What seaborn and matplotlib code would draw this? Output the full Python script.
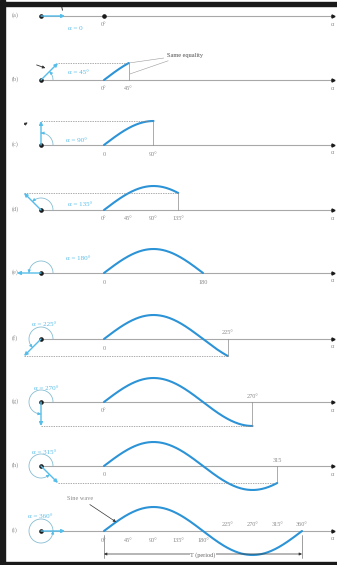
import numpy as np
import seaborn as sns
import matplotlib.pyplot as plt
from matplotlib.patches import Rectangle

sns.set_theme(style='white')
plt.rcParams['font.family'] = ['Liberation Serif', 'DejaVu Serif']

# data
panel_tags = ['(a)', '(b)', '(c)', '(d)', '(e)', '(f)', '(g)', '(h)', '(i)']
angles = [0, 45, 90, 135, 180, 225, 270, 315, 360]
angle_texts = ['α = 0', 'α = 45°', 'α = 90°', 'α = 135°', 'α = 180°',
               'α = 225°', 'α = 270°', 'α = 315°', 'α = 360°']
below_pos = [[0], [0, 45], [0, 90], [0, 45, 90, 135], [0, 180], [0], [0], [0],
             [0, 45, 90, 135, 180]]
below_txt = [['0°'], ['0°', '45°'], ['0', '90°'], ['0°', '45°', '90°', '135°'],
             ['0', '180'], ['0'], ['0°'], ['0'], ['0°', '45°', '90°', '135°', '180°']]
above_pos = [[], [], [], [], [], [225], [270], [315], [225, 270, 315, 360]]
above_txt = [[], [], [], [], [], ['225°'], ['270°'], ['315'],
             ['225°', '270°', '315°', '360°']]

# layout (pixels)
W, H = 337, 565
X0, SX, AMP = 104, 0.55, 24
rows = [16, 80, 145, 210, 273, 339, 402, 466, 531]
label_xy = [(75, 28), (78, 73), (76, 141), (80, 205), (78, 258),
            (44, 325), (46, 388), (44, 452), (40, 517)]
CX = 41
BLUE = '#2b93d6'
CYAN = '#55bde9'
GREY = '#9a9a9a'
TXT = '#8a8a8a'


def dx(xp):
    return (xp - X0) / SX


def dy(yp, row):
    return (row - yp) / AMP


fig = plt.figure(figsize=(W / 100, H / 100), dpi=100)

for i, row in enumerate(rows):
    ax = fig.add_axes([0, 1 - (row + 32) / H, 1, 64 / H])
    ax.set_xlim(dx(0), dx(W))
    ax.set_ylim(-32 / AMP, 32 / AMP)
    ax.axis('off')
    th = angles[i]
    rad = np.radians(th)
    cx = dx(CX)
    R = AMP / SX

    # horizontal axis with end arrow and centre dot
    ax.plot([cx, dx(333)], [0, 0], color='#a8a8a8', lw=0.8, clip_on=False)
    ax.plot(dx(333), 0, marker='>', ms=2.2, color='k', clip_on=False)
    ax.plot(cx, 0, marker='o', ms=2.3, color='k', clip_on=False)
    ax.text(dx(332), dy(row + 8, row), 'α', fontsize=4.5, color=TXT,
            ha='center', va='center')
    ax.text(dx(15), 0.05, panel_tags[i], fontsize=4.5, color=TXT,
            ha='center', va='center')

    # generated sine wave
    if th > 0:
        d = np.linspace(0, th, 200)
        sns.lineplot(x=d, y=np.sin(np.radians(d)), ax=ax, color=BLUE, lw=1.5,
                     sort=False, estimator=None)
    else:
        ax.plot(0, 0, marker='o', ms=2.3, color='k')

    # rotating vector
    tip = (cx + R * np.cos(rad), np.sin(rad))
    ax.annotate('', xy=tip, xytext=(cx, 0),
                arrowprops=dict(arrowstyle='-|>', color=CYAN, lw=1.0,
                                mutation_scale=5, shrinkA=0, shrinkB=0))

    # rotation arc
    if th > 0:
        t = np.linspace(0, rad, 80)
        ax.plot(cx + (12 / SX) * np.cos(t), (12 / AMP) * np.sin(t),
                color='#86bdd2', lw=0.6, clip_on=False)
        ax.annotate('', xy=(cx + (12 / SX) * np.cos(t[-1]), (12 / AMP) * np.sin(t[-1])),
                    xytext=(cx + (12 / SX) * np.cos(t[-4]), (12 / AMP) * np.sin(t[-4])),
                    arrowprops=dict(arrowstyle='-|>', color=CYAN, lw=0.6,
                                    mutation_scale=4, shrinkA=0, shrinkB=0))

    # projection lines
    s = np.sin(rad)
    if abs(s) > 1e-6:
        ax.plot([tip[0], th], [s, s], color='#8a8a8a', lw=0.5, ls=(0, (2, 1.5)),
                clip_on=False)
        ax.plot([th, th], [s, 0], color='#8a8a8a', lw=0.5, clip_on=False)

    # angle labels
    for p, lab in zip(below_pos[i], below_txt[i]):
        ax.text(p, dy(row + 9, row), lab, fontsize=4.5, color=TXT,
                ha='center', va='center')
    for p, lab in zip(above_pos[i], above_txt[i]):
        ax.text(p, dy(row - 6, row), lab, fontsize=4.5, color=TXT,
                ha='center', va='center')
    lx, ly = label_xy[i]
    ax.text(dx(lx), dy(ly, row), angle_texts[i], fontsize=5, color=CYAN,
            ha='center', va='center')

    if i == 0:
        ax.annotate('', xy=(dx(63), dy(13, row)), xytext=(dx(61), dy(3, row)),
                    arrowprops=dict(arrowstyle='-', color='k', lw=0.6))
    if i == 1:
        for target in [(45, s), (47, 0.25)]:
            ax.annotate('Same equality', xy=target, xytext=(dx(167), dy(55, row)),
                        fontsize=4.5, color=TXT, ha='left', va='center',
                        arrowprops=dict(arrowstyle='-', color=GREY, lw=0.4,
                                        shrinkA=0, shrinkB=0))
        ax.annotate('', xy=(dx(48), dy(69, row)), xytext=(dx(34), dy(64, row)),
                    arrowprops=dict(arrowstyle='-|>', color='#333', lw=0.6,
                                    mutation_scale=4))
    if i == 2:
        ax.annotate('', xy=(dx(30), dy(121, row)), xytext=(dx(22), dy(126, row)),
                    arrowprops=dict(arrowstyle='-|>', color='#333', lw=0.6,
                                    mutation_scale=4))
    if i == 8:
        ax.annotate('Sine wave', xy=(22, np.sin(np.radians(22))),
                    xytext=(dx(80), dy(498, row)), fontsize=4.5, color=TXT,
                    ha='center', va='center',
                    arrowprops=dict(arrowstyle='-|>', color='#333', lw=0.5,
                                    mutation_scale=4, shrinkA=1, shrinkB=0))
        for p in [0, 360]:
            ax.plot([p, p], [dy(row + 4, row), dy(558, row)], color='#777',
                    lw=0.5, clip_on=False)
        ax.annotate('', xy=(360, dy(554, row)), xytext=(0, dy(554, row)),
                    arrowprops=dict(arrowstyle='<|-|>', color='#333', lw=0.5,
                                    mutation_scale=4, shrinkA=0, shrinkB=0))
        ax.text(180, dy(555, row), 'T (period)', fontsize=4.5, color='#666',
                ha='center', va='center',
                bbox=dict(facecolor='white', edgecolor='none', pad=0.3))

# page frame
fig.add_artist(Rectangle((0, 0), 5 / W, 1, transform=fig.transFigure,
                         color='k', zorder=10))
fig.add_artist(Rectangle((0, 1 - 6 / H), 1, 4 / H, transform=fig.transFigure,
                         color='k', zorder=10))
fig.add_artist(Rectangle((0, 0), 1, 3 / H, transform=fig.transFigure,
                         color='k', zorder=10))

fig.savefig('out.png', dpi=100)
